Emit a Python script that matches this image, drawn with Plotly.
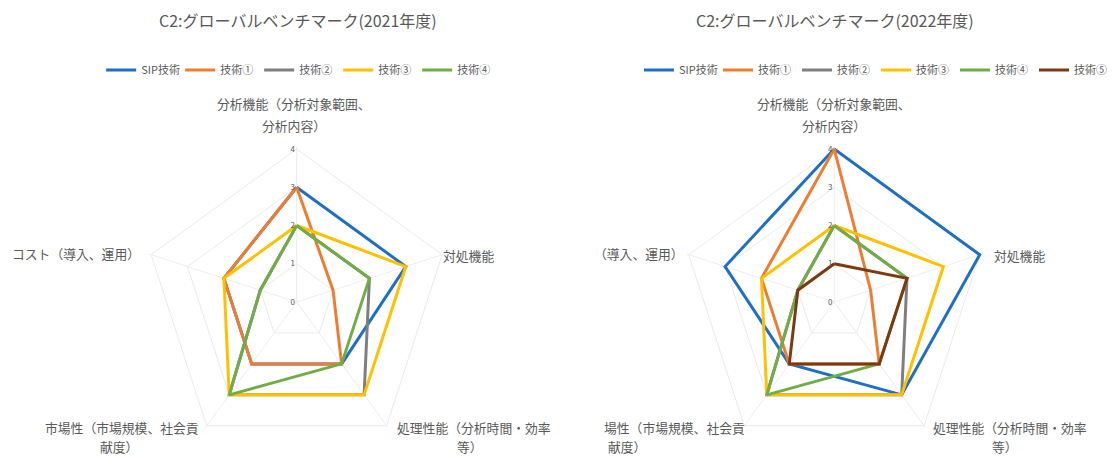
import plotly.graph_objects as go

# ---------------- data ----------------
axes_labels = [
    "分析機能（分析対象範囲、分析内容）",
    "対処機能",
    "処理性能（分析時間・効率等）",
    "市場性（市場規模、社会貢献度）",
    "コスト（導入、運用）",
]
series_names = ["SIP技術", "技術①", "技術②", "技術③", "技術④", "技術⑤"]
series_colors = ["#1F6FC5", "#ED7D31", "#7F7F7F", "#FFC000", "#70AD47", "#7B3A12"]

values_2021 = {
    "SIP技術": [3, 3, 2, 2, 2],
    "技術①": [3, 1, 2, 2, 2],
    "技術②": [2, 2, 3, 3, 1],
    "技術③": [2, 3, 3, 3, 2],
    "技術④": [2, 2, 2, 3, 1],
}
values_2022 = {
    "SIP技術": [4, 4, 3, 2, 3],
    "技術①": [4, 1, 2, 2, 2],
    "技術②": [2, 2, 3, 3, 1],
    "技術③": [2, 3, 3, 3, 2],
    "技術④": [2, 2, 2, 3, 1],
    "技術⑤": [1, 2, 2, 2, 1],
}
title_2021 = "C2:グローバルベンチマーク(2021年度)"
title_2022 = "C2:グローバルベンチマーク(2022年度)"
radial_ticks = [0, 1, 2, 3, 4]

# ---------------- layout constants ----------------
W, H = 1113, 458
FONT = "Noto Sans CJK JP"
TXT = "#595959"
R = 156
CY = 302            # centre y (px from top)
CX1, CX2 = 298, 838  # centre x of the two radars


def px(x):
    return x / W


def py(y):
    return (H - y) / H


fig = go.Figure()


def add_series(values, subplot, legend):
    for name, color in zip(series_names, series_colors):
        if name not in values:
            continue
        v = values[name]
        fig.add_trace(go.Scatterpolar(
            r=v + v[:1],
            theta=axes_labels + axes_labels[:1],
            mode="lines",
            line=dict(color=color, width=3),
            name=name,
            subplot=subplot,
            legend=legend,
            cliponaxis=False,
            hoverinfo="skip",
        ))


add_series(values_2021, "polar", "legend")
add_series(values_2022, "polar2", "legend2")

polar_common = dict(
    bgcolor="rgba(0,0,0,0)",
    gridshape="linear",
    angularaxis=dict(
        rotation=90, direction="clockwise", showticklabels=False,
        ticks="", showline=False,
        gridcolor="#EDEDED", categoryorder="array", categoryarray=axes_labels,
    ),
    radialaxis=dict(
        range=[0, 4.06], tickvals=radial_ticks, angle=90, tickangle=90,
        showline=False, ticks="", gridcolor="#EAEAEA",
        tickfont=dict(family=FONT, size=8, color=TXT),
        side="counterclockwise",
    ),
)

legend_common = dict(
    orientation="h", yanchor="middle", xanchor="center",
    font=dict(family=FONT, size=11, color=TXT), bgcolor="rgba(0,0,0,0)",
    entrywidth=34, entrywidthmode="pixels", itemwidth=30,
)

fig.update_layout(
    width=W, height=H,
    margin=dict(l=0, r=0, t=0, b=0),
    paper_bgcolor="white",
    plot_bgcolor="white",
    font=dict(family=FONT, color=TXT),
    polar=dict(domain=dict(x=[px(CX1 - R), px(CX1 + R)], y=[py(CY + R), py(CY - R)]), **polar_common),
    polar2=dict(domain=dict(x=[px(CX2 - R), px(CX2 + R)], y=[py(CY + R), py(CY - R)]), **polar_common),
    legend=dict(x=px(300), y=py(70), **legend_common),
    legend2=dict(x=px(880), y=py(70), **legend_common),
)

annotations = []


def ann(text, x, y, anchor="center", size=12.8):
    annotations.append(dict(
        text=text, x=px(x), y=py(y), xref="paper", yref="paper",
        xanchor=anchor, yanchor="middle", showarrow=False,
        font=dict(family=FONT, size=size, color=TXT),
    ))


# titles
ann(title_2021, 299, 20, size=16)
ann(title_2022, 839, 20, size=16)

# axis category labels, left radar
ann("分析機能（分析対象範囲、", 295, 103)
ann("分析内容）", 295, 126)
ann("対処機能", 443, 255, "left")
ann("処理性能（分析時間・効率", 397, 427, "left")
ann("等）", 472, 446)
ann("市場性（市場規模、社会貢", 43, 427, "left")
ann("献度）", 120, 446)
ann("コスト（導入、運用）", 10, 253, "left")

# axis category labels, right radar (left-hand labels are cut off in the original)
ann("分析機能（分析対象範囲、", 838, 103)
ann("分析内容）", 838, 126)
ann("対処機能", 996, 255, "left")
ann("処理性能（分析時間・効率", 935, 427, "left")
ann("等）", 1010, 446)
ann("場性（市場規模、社会貢", 750, 427, "right")
ann("献度）", 630, 446)
ann("（導入、運用）", 595, 253, "left")

fig.update_layout(annotations=annotations)

fig.write_html(
    "out.html",
    config={"displayModeBar": False},
    post_script="document.body.style.margin='0';document.body.style.overflow='hidden';",
)
